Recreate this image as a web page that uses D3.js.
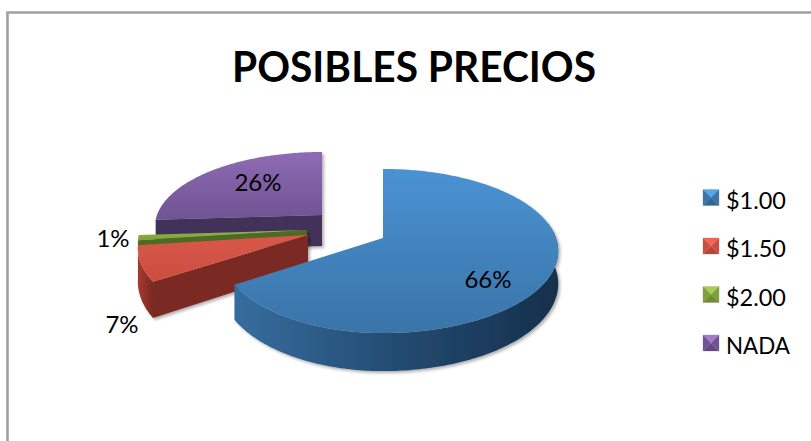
<!DOCTYPE html>
<html><head><meta charset="utf-8">
<script src="https://cdn.jsdelivr.net/npm/d3@7"></script>
<style>html,body{margin:0;padding:0;background:#fff}svg{display:block}text{font-family:Lato,"Noto Sans",sans-serif;fill:#000}</style>
</head><body><svg id="c" width="811" height="441"></svg>
<script>
const categories = ["$1.00","$1.50","$2.00","NADA"];
const values = [66,7,1,26];
const pctLabels = ["66%","7%","1%","26%"];
const chartTitle = "POSIBLES PRECIOS";
const tops = ["#4a92d4","#d9574a","#93b548","#8f6bb5"];
const topsLow = ["#3a74a8","#cc4e40","#7f9f3a","#6f5392"];
const wallL = ["#366d9e","#a93a30","#4f6b20","#42305a"];
const wallR = ["#15304c","#7a2a22","#4f6b20","#42305a"];
const cutFace = ["#1c3d5e","#7a2a22","#4f6b20","#42305a"];

const svg = d3.select("#c");
const defs = svg.append("defs");
const f = defs.append("filter").attr("id","sh").attr("x","-10%").attr("y","-10%").attr("width","125%").attr("height","125%");
f.append("feDropShadow").attr("dx",2).attr("dy",2).attr("stdDeviation",1.8).attr("flood-color","#000").attr("flood-opacity",.3);

// frame
svg.append("path").attr("d","M7.5,441V12.5H811").attr("fill","none").attr("stroke","#a0a0a0").attr("stroke-width",2.6);

// title
svg.append("text").attr("x",414).attr("y",82).attr("text-anchor","middle").attr("font-weight",700).attr("font-size",42).attr("textLength",364).attr("lengthAdjust","spacingAndGlyphs").text(chartTitle);

const pie = d3.pie().sort(null).value(d=>d)(values);
// perspective of the tilted disc and the exploded slice placement
const K=.1586;
const place = [
 {x:383,y:238,rr:173,rl:161,d:32,a:80},
 {x:308,y:235,rr:168,rl:168,d:33,a:80},
 {x:307,y:230,rr:167,rl:167,d:10,a:80},
 {x:322,y:215,rr:165,rl:165,d:31,a:73}
];
function proj(th,p,dz=0,r=1){
  const u=Math.sin(th)*r, v=-Math.cos(th)*r, s=1/(1-K*v);
  return [p.x+(u<0?p.rl:p.rr)*u*s, p.y+p.a*v*s+dz*s];
}
const line=d3.line();
const arcPts=(a,b,p,dz=0)=>{const n=Math.max(4,Math.ceil((b-a)*60));return d3.range(n+1).map(i=>proj(a+(b-a)*i/n,p,dz));};

function slice(i,wallFrom,wallTo,cutAt){
  const d=pie[i],p=place[i];
  const g=svg.append("g").attr("filter","url(#sh)");
  const a0=d.startAngle,a1=d.endAngle;
  // cut face
  cutAt.forEach(t=>{
    const e=proj(t,p), e2=proj(t,p,p.d), c=proj(0,p,0,0), c2=proj(0,p,p.d,0);
    g.append("path").attr("d",line([c,e,e2,c2])+"Z").attr("fill",cutFace[i]);
  });
  // outer wall
  if(wallTo>wallFrom){
    const top=arcPts(wallFrom,wallTo,p), bot=arcPts(wallFrom,wallTo,p,p.d).reverse();
    const id="w"+i, xs=top.map(q=>q[0]);
    const lg=defs.append("linearGradient").attr("id",id).attr("gradientUnits","userSpaceOnUse")
      .attr("x1",d3.min(xs)).attr("x2",d3.max(xs)).attr("y1",0).attr("y2",0);
    lg.append("stop").attr("offset",0).attr("stop-color",wallL[i]);
    lg.append("stop").attr("offset",.55).attr("stop-color",d3.interpolateRgb(wallL[i],wallR[i])(.6));
    lg.append("stop").attr("offset",1).attr("stop-color",wallR[i]);
    g.append("path").attr("d",line(top.concat(bot))+"Z").attr("fill","url(#"+id+")");
  }
  // top face
  const pts=[proj(0,p,0,0)].concat(arcPts(a0,a1,p));
  const ys=pts.map(q=>q[1]);
  const id="t"+i;
  const lt=defs.append("linearGradient").attr("id",id).attr("gradientUnits","userSpaceOnUse")
    .attr("x1",0).attr("x2",0).attr("y1",d3.min(ys)).attr("y2",d3.max(ys));
  lt.append("stop").attr("offset",0).attr("stop-color",tops[i]);
  lt.append("stop").attr("offset",1).attr("stop-color",topsLow[i]);
  g.append("path").attr("d",line(pts)+"Z").attr("fill","url(#"+id+")");
}
const [b,r,gr,pu]=pie;
slice(3,pu.startAngle,pu.startAngle,[pu.startAngle]);
slice(2,gr.startAngle,gr.startAngle,[gr.startAngle]);
slice(1,r.startAngle,r.endAngle,[r.startAngle]);
slice(0,Math.PI*.44,b.endAngle,[0]);

// data labels
const labelPos=[[488,288],[122,333],[113,247],[258,191]];
svg.selectAll("text.lab").data(pctLabels).enter().append("text").attr("class","lab")
  .attr("x",(d,i)=>labelPos[i][0]).attr("y",(d,i)=>labelPos[i][1]).attr("text-anchor","middle").attr("font-size",24).text(d=>d);

// legend
const ly=d3.scalePoint().domain(categories).range([197.5,343]);
const S=16;
categories.forEach((c,i)=>{
  const x=703,y=ly(c)-S/2,col=d3.color(topsLow[i]);
  const g=svg.append("g");
  g.append("rect").attr("x",x-.5).attr("y",y-.5).attr("width",S+1).attr("height",S+1).attr("fill","#d5d5d5");
  const cx=x+S/2,cy=y+S/2;
  const tri=(pts,fill)=>g.append("path").attr("d",line(pts)+"Z").attr("fill",fill);
  tri([[x,y],[x+S,y],[cx,cy]],d3.rgb(tops[i]).brighter(.35));
  tri([[x,y],[x,y+S],[cx,cy]],col);
  tri([[x+S,y],[x+S,y+S],[cx,cy]],col);
  tri([[x,y+S],[x+S,y+S],[cx,cy]],col.darker(.35));
  svg.append("text").attr("x",726).attr("y",ly(c)+11).attr("font-size",24).attr("textLength",c==="NADA"?64:60).attr("lengthAdjust","spacingAndGlyphs").text(c);
});
</script></body></html>
